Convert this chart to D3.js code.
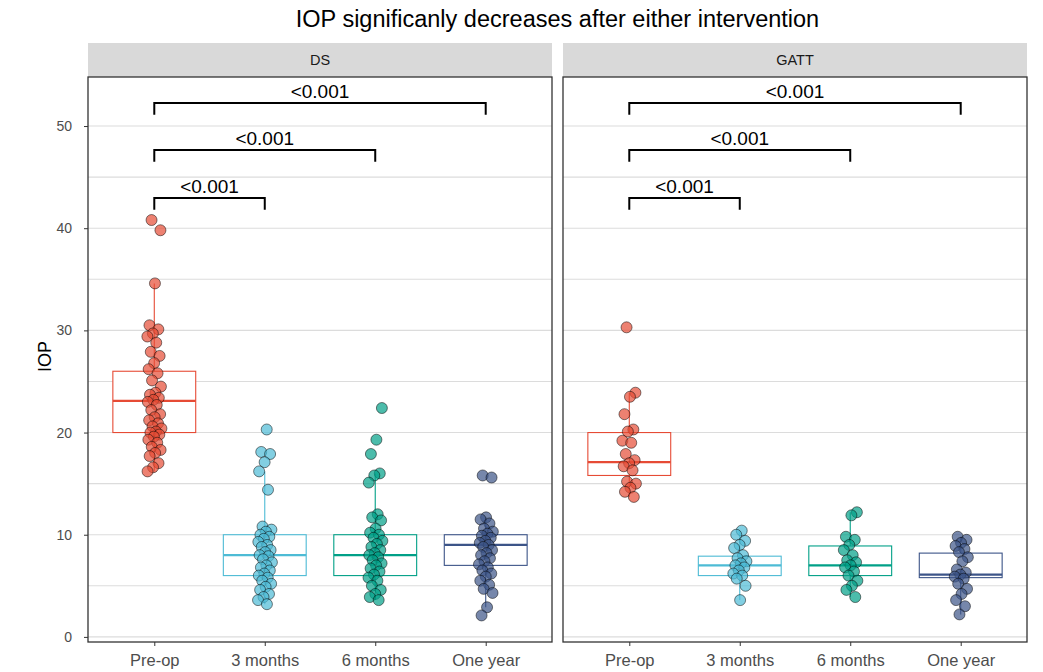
<!DOCTYPE html>
<html>
<head>
<meta charset="utf-8">
<script src="https://cdn.jsdelivr.net/npm/d3@7"></script>
<style>
  body { margin: 0; background: #fff; }
  svg { display: block; font-family: "Liberation Sans", Arial, sans-serif; }
</style>
</head>
<body>
<div id="chart"></div>
<script>
// ---- data ------------------------------------------------------------------
const title = "IOP significanly decreases after either intervention";
const yLabel = "IOP";
const panels = ["DS", "GATT"];
const categories = ["Pre-op", "3 months", "6 months", "One year"];
const colors = ["#E64B35", "#4DBBD5", "#00A087", "#3C5488"];
const yTicks = [0, 10, 20, 30, 40, 50];
const gridValues = [0, 5, 10, 15, 20, 25, 30, 35, 40, 45, 50];

// raw IOP values per group
const dsPreop = [40.8, 39.8, 34.6, 30.5, 30.1, 29.7, 29.4, 28.8, 27.9, 27.5, 26.8, 26.2,
    25.8, 25.1, 24.5, 23.9, 23.7, 23.4, 23.2, 23.0, 22.7, 22.2, 21.8, 21.5, 21.2, 20.9,
    20.6, 20.4, 20.1, 20.0, 19.8, 19.6, 19.3, 19.0, 18.6, 18.3, 18.0, 17.7, 17.0, 16.6, 16.2];
const ds3m = [20.3, 18.1, 17.9, 17.1, 16.2, 14.4, 10.8, 10.5, 10.3, 10.0, 9.8, 9.6, 9.3,
    9.0, 8.8, 8.5, 8.3, 8.0, 7.9, 7.6, 7.3, 7.0, 6.8, 6.5, 6.2, 6.0, 5.8, 5.5, 5.2, 4.9,
    4.6, 4.2, 3.9, 3.6, 3.2];
const ds6m = [22.4, 19.3, 17.9, 16.0, 15.8, 15.1, 12.0, 11.7, 11.4, 10.6, 10.2, 10.0, 9.7,
    9.4, 9.1, 8.8, 8.5, 8.2, 8.0, 7.8, 7.5, 7.2, 7.0, 6.7, 6.4, 6.1, 5.8, 5.5, 5.0, 4.6,
    4.2, 3.9, 3.6];
const ds1y = [15.8, 15.6, 11.7, 11.5, 11.1, 10.6, 10.3, 10.1, 9.9, 9.7, 9.4, 9.2, 9.0, 8.8,
    8.5, 8.2, 8.0, 7.7, 7.4, 7.1, 6.8, 6.5, 6.2, 5.9, 5.5, 5.1, 4.7, 4.3, 2.9, 2.1];
const gattPreop = [30.3, 23.9, 23.5, 21.8, 20.3, 20.1, 19.2, 19.0, 17.9, 17.3, 17.0, 16.7,
    16.3, 15.2, 15.0, 14.6, 14.2, 13.7];
const gatt3m = [10.4, 10.0, 9.4, 9.0, 8.7, 8.0, 7.7, 7.4, 7.2, 7.0, 6.8, 6.5, 6.2, 6.0,
    5.7, 5.0, 3.6];
const gatt6m = [12.2, 11.9, 9.8, 9.5, 9.0, 8.5, 8.0, 7.5, 7.3, 7.0, 6.8, 6.4, 6.0, 5.5,
    5.0, 4.6, 3.9];
const gatt1y = [9.8, 9.5, 9.2, 8.9, 8.6, 8.3, 7.8, 7.4, 6.6, 6.3, 6.1, 5.9, 5.7, 5.2,
    4.7, 4.2, 3.6, 3.0, 2.2];

// box stats per group: [lower whisker, q1, median, q3, upper whisker]
const dsBoxes = [[16.2, 20.0, 23.1, 26.0, 34.6], [3.2, 6.0, 8.0, 10.0, 16.2],
    [3.6, 6.0, 8.0, 10.0, 16.0], [2.9, 7.0, 9.0, 10.0, 11.7]];
const gattBoxes = [[13.7, 15.8, 17.1, 20.0, 23.9], [3.6, 6.0, 7.0, 7.9, 10.4],
    [3.9, 6.0, 7.0, 8.9, 12.2], [2.2, 5.8, 6.1, 8.2, 9.8]];

// pairwise comparisons: [from, to, label, bracket level]
const comparisons = [["Pre-op", "3 months", "<0.001", 42.95],
    ["Pre-op", "6 months", "<0.001", 47.65],
    ["Pre-op", "One year", "<0.001", 52.25]];

const panelData = [
    { name: "DS", groups: [dsPreop, ds3m, ds6m, ds1y], boxes: dsBoxes },
    { name: "GATT", groups: [gattPreop, gatt3m, gatt6m, gatt1y], boxes: gattBoxes }
];

// ---- layout ----------------------------------------------------------------
const W = 1043, H = 672;
const panelTop = 77, panelBottom = 642, stripTop = 43;
const panelX = [88, 563], panelW = 464;

const svg = d3.select("#chart").append("svg")
    .attr("width", W).attr("height", H).attr("viewBox", `0 0 ${W} ${H}`);

const y = d3.scaleLinear().domain([-0.5, 54.8]).range([panelBottom, panelTop]);

svg.append("text")
    .attr("x", (panelX[0] + panelX[1] + panelW) / 2).attr("y", 27)
    .attr("text-anchor", "middle").style("font-size", "23.5px").style("fill", "#000")
    .text(title);

svg.append("text")
    .attr("transform", `translate(51, ${(panelTop + panelBottom) / 2 - 3}) rotate(-90)`)
    .attr("text-anchor", "middle").style("font-size", "18px").style("fill", "#000")
    .text(yLabel);

// y axis (left panel only)
const yAxis = svg.append("g").attr("transform", `translate(${panelX[0]},0)`)
    .call(d3.axisLeft(y).tickValues(yTicks).tickSize(4).tickPadding(12));
yAxis.select(".domain").remove();
yAxis.selectAll(".tick line").attr("stroke", "#333");
yAxis.selectAll(".tick text").style("font-size", "14px").style("fill", "#4D4D4D")
    .style("font-family", "Liberation Sans, Arial, sans-serif");

// deterministic jitter offsets (in band units)
const jitter = i => (((i * 0.6180339887 + 0.31) % 1) - 0.5) * 0.13;

panelData.forEach((pd, pi) => {
    const x0 = panelX[pi];
    const x = d3.scalePoint().domain(categories).range([0, panelW]).padding(0.6);
    const step = x.step();
    const g = svg.append("g").attr("transform", `translate(${x0},0)`);

    // strip
    g.append("rect").attr("x", 0).attr("y", stripTop).attr("width", panelW)
        .attr("height", panelTop - stripTop).attr("fill", "#D9D9D9");
    g.append("text").attr("x", panelW / 2).attr("y", (stripTop + panelTop) / 2 + 5)
        .attr("text-anchor", "middle").style("font-size", "14.5px").style("fill", "#1A1A1A")
        .text(pd.name);

    // grid
    g.selectAll("line.grid").data(gridValues).join("line").attr("class", "grid")
        .attr("x1", 0).attr("x2", panelW)
        .attr("y1", d => y(d)).attr("y2", d => y(d))
        .attr("stroke", "#DCDCDC").attr("stroke-width", 1.1);

    // boxes
    const bw = step * 0.75;
    pd.boxes.forEach((b, ci) => {
        const cx = x(categories[ci]);
        const c = colors[ci];
        const bg = g.append("g");
        bg.append("line").attr("x1", cx).attr("x2", cx).attr("y1", y(b[3])).attr("y2", y(b[4]))
            .attr("stroke", c).attr("stroke-width", 1.1);
        bg.append("line").attr("x1", cx).attr("x2", cx).attr("y1", y(b[0])).attr("y2", y(b[1]))
            .attr("stroke", c).attr("stroke-width", 1.1);
        bg.append("rect").attr("x", cx - bw / 2).attr("width", bw)
            .attr("y", y(b[3])).attr("height", y(b[1]) - y(b[3]))
            .attr("fill", "#fff").attr("stroke", c).attr("stroke-width", 1.1);
        bg.append("line").attr("x1", cx - bw / 2).attr("x2", cx + bw / 2)
            .attr("y1", y(b[2])).attr("y2", y(b[2]))
            .attr("stroke", c).attr("stroke-width", 2.2);
    });

    // points
    pd.groups.forEach((vals, ci) => {
        const cx = x(categories[ci]);
        g.append("g").selectAll("circle").data(vals).join("circle")
            .attr("cx", (d, i) => cx + jitter(i + ci * 7) * step)
            .attr("cy", d => y(d))
            .attr("r", 5.5)
            .attr("fill", colors[ci]).attr("fill-opacity", 0.7)
            .attr("stroke", "#000").attr("stroke-opacity", 0.55).attr("stroke-width", 0.9);
    });

    // brackets
    const tip = 1.15;
    comparisons.forEach(([a, b, lab, lvl]) => {
        const xa = x(a), xb = x(b);
        g.append("path")
            .attr("d", `M${xa},${y(lvl - tip)}V${y(lvl)}H${xb}V${y(lvl - tip)}`)
            .attr("fill", "none").attr("stroke", "#000").attr("stroke-width", 2);
        g.append("text").attr("x", (xa + xb) / 2).attr("y", y(lvl) - 5)
            .attr("text-anchor", "middle").style("font-size", "19px").style("fill", "#000")
            .text(lab);
    });

    // panel border
    g.append("rect").attr("x", 0).attr("y", panelTop).attr("width", panelW)
        .attr("height", panelBottom - panelTop)
        .attr("fill", "none").attr("stroke", "#333").attr("stroke-width", 1.3);

    // x axis
    const xa = g.append("g").attr("transform", `translate(0,${panelBottom})`)
        .call(d3.axisBottom(x).tickSize(4).tickPadding(8));
    xa.select(".domain").remove();
    xa.selectAll(".tick line").attr("stroke", "#333");
    xa.selectAll(".tick text").style("font-size", "16.5px").style("fill", "#4D4D4D")
        .style("font-family", "Liberation Sans, Arial, sans-serif");
});
</script>
</body>
</html>
